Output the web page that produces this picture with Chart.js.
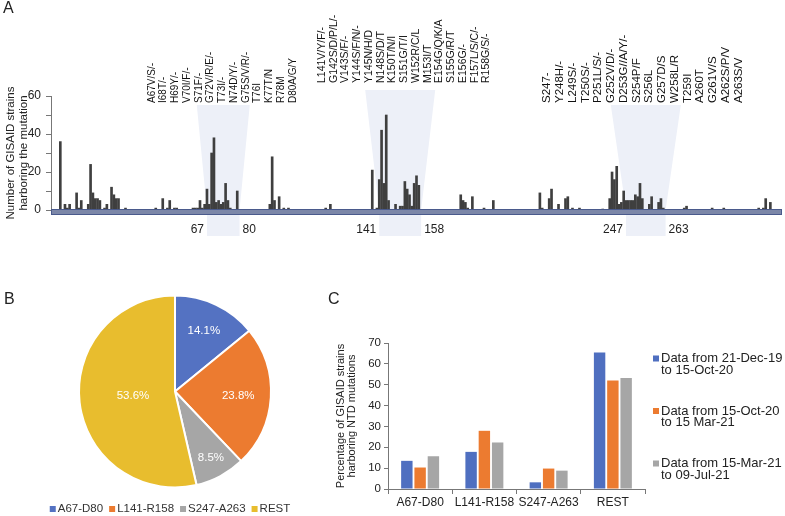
<!DOCTYPE html>
<html><head><meta charset="utf-8">
<script src="https://cdn.jsdelivr.net/npm/chart.js@4.4.1/dist/chart.umd.min.js"></script>
<style>
html,body{margin:0;padding:0;background:#fff;}
body{width:785px;height:516px;position:relative;overflow:hidden;font-family:"Liberation Sans",Arial,sans-serif;}
.box{position:absolute;}
.tag{position:absolute;font-size:16px;color:#222;line-height:16px;}
</style></head><body>
<div class="box" style="left:0;top:0;width:785px;height:245px"><canvas id="cA"></canvas></div>
<div class="box" style="left:0;top:280px;width:340px;height:236px"><canvas id="cB"></canvas></div>
<div class="box" style="left:320px;top:300px;width:465px;height:216px"><canvas id="cC"></canvas></div>
<div class="tag" style="left:3px;top:0px">A</div>
<div class="tag" style="left:4px;top:291px">B</div>
<div class="tag" style="left:328px;top:291px">C</div>
<script>
// ---------- Panel A data ----------
const residues = [4,6,7,8,11,12,13,16,17,18,19,20,21,23,24,26,27,28,29,32,45,48,50,51,53,54,61,62,63,64,65,66,67,68,69,70,71,72,73,74,75,76,77,80,94,95,96,98,100,102,118,120,138,140,141,142,143,144,145,148,150,151,152,153,154,155,156,157,158,176,177,178,179,181,186,190,210,211,214,215,218,221,222,224,227,237,240,241,242,243,244,245,246,247,248,249,250,251,252,253,254,257,258,261,262,263,272,273,284,289,304,306,307,309];
const strainCounts = [36,3,1,3,9,1,5,3,24,9,6,6,5,1,3,12,8,6,6,1,1,6,1,5,1,1,1,1,1,5,1,3,11,3,30,38,4,5,3,4,14,5,1,10,3,28,5,7,1,1,1,3,21,1,16,42,14,50,5,3,2,2,15,11,8,2,14,18,13,8,5,4,1,7,1,5,9,1,6,11,3,6,7,1,1,0.5,6,20,16,23,3,4,10,5,5,5,5,8,7,14,6,3,7,4,6,1,1,2,1,1,1,1,6,4];
const regionStart = [67,141,247];
const regionEnd = [80,158,263];
const mutationLabels = [
  ["A67V/S/-","I68T/-","H69Y/-","V70I/F/-","S71F/-","G72V/R/E/-","T73I/-","N74D/Y/-","G75S/V/R/-","T76I","K77T/N","R78M","D80A/G/Y"],
  ["L141V/Y/F/-","G142S/D/P/L/-","V143S/F/-","Y144S/F/N/-","Y145N/H/D","N148S/D/T","K150T/N/I","S151G/T/I","W152R/C/L","M153I/T","E154G/Q/K/A","S155G/R/T","E156G/-","F157L/S/C/-","R158G/S/-"],
  ["S247-","Y248H/-","L249S/-","T250S/-","P251L/S/-","G252V/D/-","D253G//A/Y/-","S254P/F","S256L","G257D/S","W258L/R","T259I","A260T","G261V/S","A262S/P/V","A263S/V"]
];
// ---------- Panel B / C data ----------
const regionNames = ["A67-D80","L141-R158","S247-A263","REST"];
const pieShares = [14.1,23.8,8.5,53.6];
const periodLabels = [["Data from 21-Dec-19","to 15-Oct-20"],["Data from 15-Oct-20","to 15 Mar-21"],["Data from 15-Mar-21","to 09-Jul-21"]];
const period1 = [13.5,17.8,3.2,65.5];
const period2 = [10.3,27.9,9.8,52.0];
const period3 = [15.7,22.3,8.8,53.2];

const FONT = '"Liberation Sans", Arial, sans-serif';
Chart.defaults.font.family = FONT;
Chart.defaults.color = '#222';
const regionColors = ['#5472c2','#ec7b30','#a6a6a6','#e8bd2e'];
const periodColors = ['#4f6fc0','#ec7b30','#a6a6a6'];

// ---------- Panel A ----------
const wedgeStyle = {topHalf:[26.5,35,35], topOff:[9,-6,9], labelBottom:[7,-13,7], labelShift:[-1,4,-3], spacing:[11.75,11.76,12.77], fontSize:[10,10.5,11.5]};
const regionPlugin = {
  id:'regions',
  beforeDatasetsDraw(chart){
    const {ctx, chartArea:ca, scales:{x}} = chart;
    ctx.save();
    ctx.fillStyle = '#edf0f8';
    regionStart.forEach((s,i)=>{
      const x0 = x.getPixelForValue(s), x1 = x.getPixelForValue(regionEnd[i]+1);
      const mid = (x0+x1)/2, hw = wedgeStyle.topHalf[i], ty = ca.top + wedgeStyle.topOff[i];
      ctx.beginPath();
      ctx.moveTo(mid-hw, ty); ctx.lineTo(mid+hw, ty); ctx.lineTo(x1, ca.bottom);
      ctx.lineTo(x1, ca.bottom+26); ctx.lineTo(x0, ca.bottom+26); ctx.lineTo(x0, ca.bottom);
      ctx.closePath(); ctx.fill();
    });
    ctx.restore();
  },
  afterDatasetsDraw(chart){
    const {ctx, chartArea:ca, scales:{x}} = chart;
    ctx.save();
    // axis band
    ctx.fillStyle = '#7c87a8';
    ctx.fillRect(ca.left, ca.bottom-1, ca.right-ca.left, 6);
    ctx.strokeStyle = '#4a5a8c'; ctx.lineWidth = 1;
    ctx.strokeRect(ca.left+0.5, ca.bottom-0.5, ca.right-ca.left-1, 5);
    // region tick numbers
    ctx.fillStyle = '#222'; ctx.font = '12px '+FONT; ctx.textBaseline = 'middle';
    regionStart.forEach((s,i)=>{
      const x0 = x.getPixelForValue(s), x1 = x.getPixelForValue(regionEnd[i]+1);
      ctx.textAlign = 'right'; ctx.fillText(String(s), x0-3, ca.bottom+20);
      ctx.textAlign = 'left'; ctx.fillText(String(regionEnd[i]), x1+3, ca.bottom+20);
    });
    // mutation labels
    ctx.fillStyle = '#111'; ctx.textAlign = 'left';
    mutationLabels.forEach((grp,i)=>{
      ctx.font = wedgeStyle.fontSize[i]+'px '+FONT;
      const x0 = x.getPixelForValue(regionStart[i]), x1 = x.getPixelForValue(regionEnd[i]+1);
      const cx = (x0+x1)/2 + wedgeStyle.labelShift[i];
      const by = ca.top + wedgeStyle.labelBottom[i];
      grp.forEach((t,j)=>{
        const lx = cx + (j-(grp.length-1)/2)*wedgeStyle.spacing[i];
        ctx.save(); ctx.translate(lx, by); ctx.rotate(-Math.PI/2);
        ctx.fillText(t, 0, 0); ctx.restore();
      });
    });
    ctx.restore();
  }
};

new Chart(document.getElementById('cA'), {
  type:'bar',
  data:{datasets:[{data: residues.map((r,i)=>({x:r, y:strainCounts[i]})), backgroundColor:'#3f3f3f', barThickness:2}]},
  options:{
    responsive:true, maintainAspectRatio:false, animation:false, devicePixelRatio:1,
    layout:{padding:{top:96,right:3,bottom:35,left:0}},
    plugins:{legend:{display:false}, tooltip:{enabled:false}},
    scales:{
      x:{type:'linear', min:0, max:314, offset:false, display:false},
      y:{min:0, max:60,
         afterFit(s){ s.width = 51; },
         ticks:{stepSize:10, padding:5, font:{size:12}, color:'#222', callback:v=> (v%20===0? String(v):'')},
         grid:{drawOnChartArea:false, tickLength:5, color:'#777'},
         border:{display:true, color:'#777'},
         title:{display:true, text:['Number of GISAID strains','harboring the mutation'], font:{size:11.5, lineHeight:1.15}, color:'#222', padding:{top:4,bottom:0}}
      }
    }
  },
  plugins:[regionPlugin]
});

// ---------- Panel B ----------
const pieLabelRadius = [0.7,0.66,0.79,0.44];
const piePlugin = {
  id:'pieText',
  afterDatasetsDraw(chart){
    const ctx = chart.ctx, meta = chart.getDatasetMeta(0);
    ctx.save(); ctx.font = '11.5px '+FONT; ctx.fillStyle = '#fff'; ctx.textAlign='center'; ctx.textBaseline='middle';
    meta.data.forEach((arc,i)=>{
      const p = arc.getProps(['x','y','startAngle','endAngle','outerRadius'], true);
      const a = (p.startAngle+p.endAngle)/2, r = p.outerRadius*pieLabelRadius[i];
      ctx.fillText(pieShares[i].toFixed(1)+'%', p.x+Math.cos(a)*r, p.y+Math.sin(a)*r);
    });
    ctx.restore();
  },
  afterDraw(chart){
    const ctx = chart.ctx; ctx.save();
    ctx.font = '11.5px '+FONT; ctx.textBaseline='middle'; ctx.textAlign='left';
    const box=6, gi=2, go=6;
    const w = regionNames.map(t=>ctx.measureText(t).width);
    const total = w.reduce((a,v)=>a+box+gi+v,0) + go*(regionNames.length-1);
    let xx = chart.width/2 - total/2; const yy = chart.height - 7;
    regionNames.forEach((t,i)=>{
      ctx.fillStyle = regionColors[i]; ctx.fillRect(xx, yy-box/2, box, box);
      xx += box+gi; ctx.fillStyle='#333'; ctx.fillText(t, xx, yy); xx += w[i]+go;
    });
    ctx.restore();
  }
};
new Chart(document.getElementById('cB'), {
  type:'pie',
  data:{labels:regionNames, datasets:[{data:pieShares, backgroundColor:regionColors, borderColor:'#fff', borderWidth:2}]},
  options:{
    responsive:true, maintainAspectRatio:false, animation:false, devicePixelRatio:1,
    radius:96,
    layout:{padding:{left:10,right:0,top:0,bottom:13}},
    plugins:{legend:{display:false}, tooltip:{enabled:false}}
  },
  plugins:[piePlugin]
});

// ---------- Panel C ----------
const legendC = {
  id:'legendC',
  afterDraw(chart){
    const {ctx, chartArea:ca} = chart; ctx.save();
    ctx.font = '13px '+FONT; ctx.textBaseline='middle'; ctx.textAlign='left';
    periodLabels.forEach((lines,i)=>{
      const y0 = ca.top + 15.5 + i*52.5;
      ctx.fillStyle = periodColors[i]; ctx.fillRect(ca.right+8, y0-3, 6, 6);
      ctx.fillStyle = '#222';
      lines.forEach((ln,k)=>ctx.fillText(ln, ca.right+16, y0 + k*11.7));
    });
    ctx.restore();
  }
};
new Chart(document.getElementById('cC'), {
  type:'bar',
  data:{labels:regionNames, datasets:[
    {label:periodLabels[0].join(' '), data:period1, backgroundColor:periodColors[0]},
    {label:periodLabels[1].join(' '), data:period2, backgroundColor:periodColors[1]},
    {label:periodLabels[2].join(' '), data:period3, backgroundColor:periodColors[2]}
  ]},
  options:{
    responsive:true, maintainAspectRatio:false, animation:false, devicePixelRatio:1,
    categoryPercentage:0.62, barPercentage:0.86,
    layout:{padding:{top:43,right:140,bottom:0,left:0}},
    plugins:{legend:{display:false}, tooltip:{enabled:false}},
    scales:{
      x:{afterFit(s){ s.height = 27; },
         ticks:{font:{size:12}, color:'#222', padding:1, maxRotation:0},
         grid:{drawOnChartArea:false, offset:true, tickLength:5, color:'#777'},
         border:{color:'#777'}},
      y:{min:0, max:70,
         afterFit(s){ s.width = 68; },
         ticks:{stepSize:10, padding:3, font:{size:11.5}, color:'#222'},
         grid:{drawOnChartArea:false, tickLength:4, color:'#777'},
         border:{color:'#777'},
         title:{display:true, text:['Percentage of GISAID strains','harboring NTD mutations'], font:{size:11, lineHeight:1.05}, color:'#222', padding:{top:15,bottom:0}}
      }
    }
  },
  plugins:[legendC]
});
</script>
</body></html>
